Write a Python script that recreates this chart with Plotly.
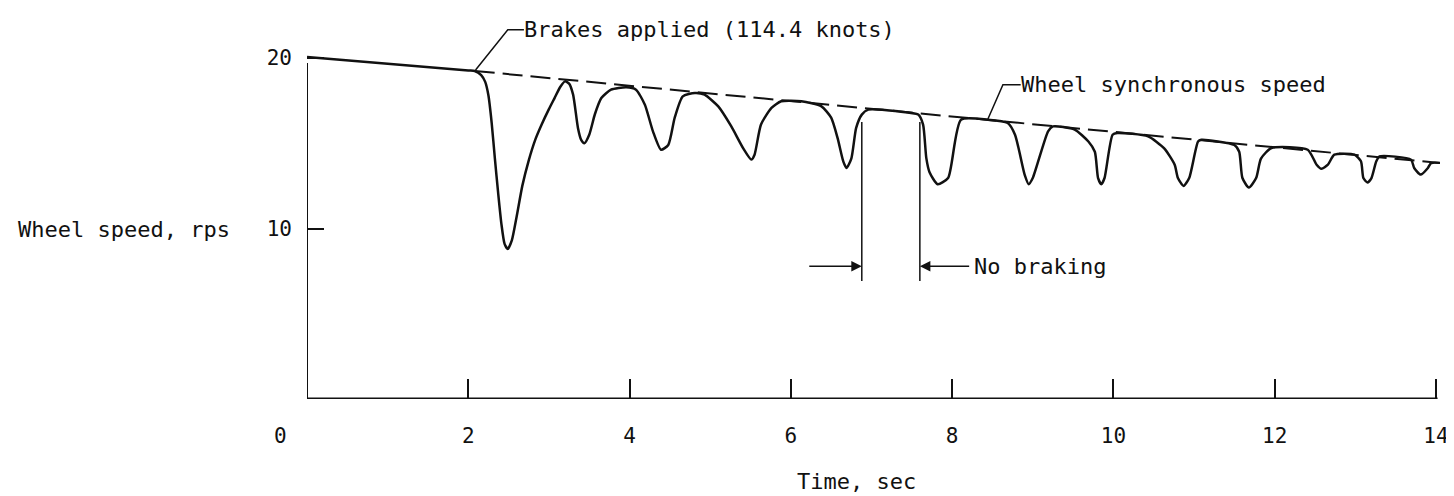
"""Wheel speed time history during braking, with wheel synchronous speed."""

import plotly.graph_objects as go

# Wheel speed trace (time in sec, speed in rps)
time_s = [
    0.0, 2.0, 2.08, 2.16, 2.21, 2.25, 2.29, 2.33, 2.37, 2.41, 2.45, 2.49,
    2.54, 2.6, 2.67, 2.75, 2.83, 2.91, 3.0, 3.07, 3.14, 3.2, 3.25, 3.3, 3.36,
    3.4, 3.44, 3.5, 3.57, 3.65, 3.77, 3.96, 4.08, 4.19, 4.29, 4.39, 4.48,
    4.56, 4.66, 4.81, 4.93, 5.1, 5.26, 5.41, 5.51, 5.55, 5.63, 5.76, 5.88,
    6.13, 6.38, 6.5, 6.58, 6.65, 6.69, 6.75, 6.81, 6.88, 6.96, 7.33, 7.58,
    7.64, 7.68, 7.72, 7.82, 7.95, 8.11, 8.44, 8.69, 8.78, 8.9, 8.95, 9.0,
    9.19, 9.25, 9.52, 9.69, 9.77, 9.81, 9.85, 9.89, 9.99, 10.05, 10.43,
    10.63, 10.76, 10.8, 10.87, 10.94, 11.05, 11.09, 11.5, 11.56, 11.6, 11.68,
    11.77, 11.83, 11.96, 12.41, 12.52, 12.58, 12.66, 12.74, 12.99, 13.07,
    13.1, 13.15, 13.2, 13.26, 13.3, 13.69, 13.73, 13.81, 13.9, 13.94, 14.27,
]
speed_rps = [
    20.06, 19.27, 19.24, 19.0, 18.6, 17.8, 16.2, 14.1, 12.1, 10.3, 9.1, 8.8,
    9.3, 10.7, 12.5, 14.0, 15.2, 16.1, 17.0, 17.65, 18.3, 18.63, 18.5, 17.85,
    15.9, 15.2, 15.0, 15.5, 16.7, 17.65, 18.14, 18.28, 18.14, 17.26, 15.7,
    14.62, 14.9, 16.5, 17.75, 17.95, 17.85, 17.16, 16.0, 14.7, 14.04, 14.33,
    16.1, 17.07, 17.46, 17.46, 17.16, 16.5, 15.3, 13.94, 13.55, 14.1, 15.9,
    16.68, 16.97, 16.87, 16.68, 16.09, 14.13, 13.3, 12.6, 12.96, 16.38,
    16.38, 16.19, 15.5, 13.15, 12.6, 12.96, 15.7, 15.99, 15.8, 15.1, 14.5,
    12.96, 12.6, 12.96, 15.5, 15.6, 15.4, 14.7, 13.74, 12.96, 12.5, 12.96,
    15.1, 15.2, 14.9, 14.5, 12.96, 12.4, 12.96, 14.1, 14.72, 14.62, 13.74,
    13.5, 13.74, 14.33, 14.33, 13.94, 12.96, 12.7, 12.96, 13.94, 14.23,
    14.04, 13.55, 13.16, 13.55, 13.84, 13.74,
]

# Wheel synchronous speed (dashed)
sync_t = [2.08, 14.27]
sync_rps = [19.24, 13.74]

# "No braking" interval markers
nobrake_t = [6.88, 7.6]

x_ticks = [0, 2, 4, 6, 8, 10, 12, 14]
x_labels = ["", "2", "4", "6", "8", "10", "12", "14"]
y_ticks = [10, 20]

FONT = "DejaVu Sans Mono"
INK = "#111111"

# pixel geometry of the plot box
W, H = 1454, 496
L, R, T, B = 299, 22, 1, 105


def px_x(p):
    return (p - L) / (W - L - R)


def px_y(p):
    return (H - B - p) / (H - T - B)


fig = go.Figure()
fig.add_trace(go.Scatter(
    x=sync_t, y=sync_rps, mode="lines", cliponaxis=False,
    line={"color": INK, "width": 2, "dash": "20px,8px"},
    hoverinfo="skip",
))
fig.add_trace(go.Scatter(
    x=time_s, y=speed_rps, mode="lines", cliponaxis=False,
    line={"color": INK, "width": 2.5, "shape": "spline", "smoothing": 0.6},
))

# axis lines
fig.add_shape(type="line", x0=0, x1=14.02, y0=0, y1=0, line={"color": INK, "width": 3})
fig.add_shape(type="line", x0=0, x1=0, y0=0, y1=19.7, line={"color": INK, "width": 2})

# no-braking markers
for t in nobrake_t:
    fig.add_shape(type="line", x0=t, x1=t, y0=6.92, y1=16.25, line={"color": INK, "width": 1.5})
fig.add_annotation(x=nobrake_t[0], y=7.78, ax=6.21, ay=7.78, axref="x", ayref="y",
                   text="", showarrow=True, arrowhead=2, arrowsize=1.4, arrowwidth=1.5,
                   arrowcolor=INK)
fig.add_annotation(x=nobrake_t[1], y=7.78, ax=8.23, ay=7.78, axref="x", ayref="y",
                   text="", showarrow=True, arrowhead=2, arrowsize=1.4, arrowwidth=1.5,
                   arrowcolor=INK)
fig.add_annotation(x=8.25, y=7.78, text="No braking", showarrow=False,
                   xanchor="left", yanchor="middle")

# leader lines for callouts
fig.add_shape(type="path", path="M 2.09,19.3 L 2.49,21.66 L 2.69,21.66",
              line={"color": INK, "width": 1.5})
fig.add_annotation(x=2.67, y=21.66, text="Brakes applied (114.4 knots)", showarrow=False,
                   xanchor="left", yanchor="middle")
fig.add_shape(type="path", path="M 8.44,16.38 L 8.63,18.43 L 8.85,18.43",
              line={"color": INK, "width": 1.5})
fig.add_annotation(x=8.83, y=18.43, text="Wheel synchronous speed", showarrow=False,
                   xanchor="left", yanchor="middle")

# origin label, axis titles (paper coordinates, outside the plot box)
fig.add_annotation(x=px_x(272), y=px_y(428), xref="paper", yref="paper",
                   text="0", showarrow=False, font={"size": 21},
                   xanchor="center", yanchor="middle")
fig.add_annotation(x=px_x(8), y=px_y(221), xref="paper", yref="paper",
                   text="Wheel speed, rps", showarrow=False,
                   xanchor="left", yanchor="middle")
fig.add_annotation(x=px_x(848), y=px_y(474), xref="paper", yref="paper",
                   text="Time, sec", showarrow=False,
                   xanchor="center", yanchor="middle")

fig.update_layout(
    width=W,
    height=H,
    margin={"l": L, "r": R, "t": T, "b": B},
    paper_bgcolor="white",
    plot_bgcolor="white",
    showlegend=False,
    font={"family": FONT, "size": 22, "color": INK},
    xaxis={
        "range": [0, (W - L - R) / 80.64],
        "tickvals": x_ticks,
        "ticktext": x_labels,
        "ticks": "inside",
        "ticklen": 20,
        "tickwidth": 2,
        "tickcolor": INK,
        "ticklabelstandoff": 22,
        "tickfont": {"size": 21},
        "showgrid": False,
        "zeroline": False,
        "showline": False,
        "automargin": False,
    },
    yaxis={
        "range": [0, (H - T - B) / 17.05],
        "tickvals": y_ticks,
        "ticks": "inside",
        "ticklen": 17,
        "tickwidth": 2,
        "tickcolor": INK,
        "ticklabelstandoff": 14,
        "tickfont": {"size": 21},
        "showgrid": False,
        "zeroline": False,
        "showline": False,
        "automargin": False,
    },
)

fig.write_html("out.html")
